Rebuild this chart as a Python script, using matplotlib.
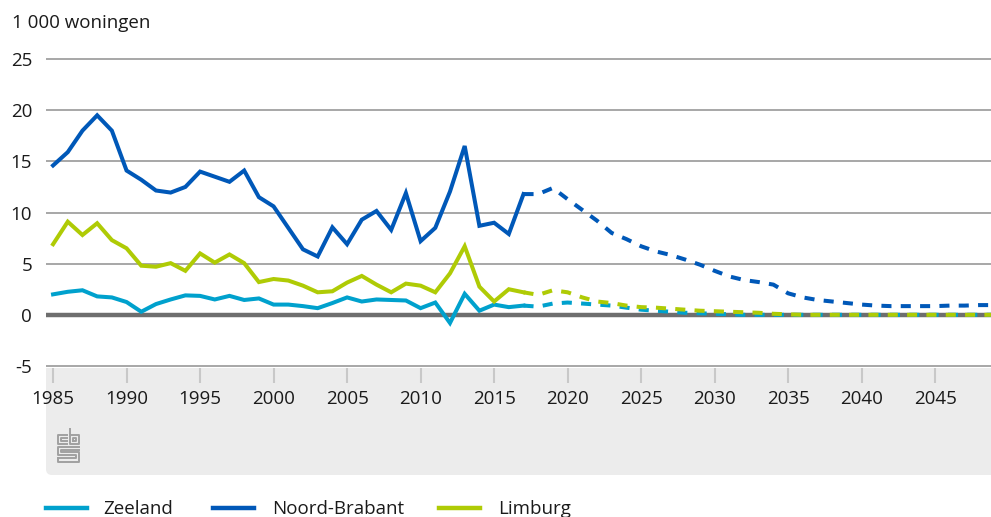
import numpy as np
import matplotlib.pyplot as plt
from matplotlib.lines import Line2D
from matplotlib.patches import FancyBboxPatch

plt.rcParams['font.family'] = ['Open Sans', 'DejaVu Sans']
plt.rcParams['axes.unicode_minus'] = False

# realised figures 1985-2017
years = np.arange(1985, 2018)
zeeland = [2.0, 2.25, 2.4, 1.8, 1.7, 1.25, 0.3, 1.05, 1.5, 1.9,
           1.85, 1.5, 1.85, 1.45, 1.6, 1.0, 1.0, 0.85, 0.65, 1.15,
           1.7, 1.3, 1.5, 1.45, 1.4, 0.65, 1.2, -0.8, 2.05, 0.4,
           1.0, 0.75, 0.9]
brabant = [14.6, 15.9, 18.0, 19.5, 18.0, 14.1, 13.2, 12.15, 11.95, 12.5,
           14.0, 13.5, 13.0, 14.1, 11.5, 10.6, 8.5, 6.4, 5.7, 8.55,
           6.9, 9.3, 10.15, 8.3, 11.9, 7.2, 8.5, 12.05, 16.5, 8.7,
           9.0, 7.9, 11.8]
limburg = [6.9, 9.1, 7.8, 8.95, 7.3, 6.5, 4.8, 4.7, 5.05, 4.3,
           6.0, 5.1, 5.9, 5.05, 3.2, 3.5, 3.35, 2.85, 2.2, 2.3,
           3.15, 3.8, 2.95, 2.2, 3.05, 2.85, 2.2, 4.05, 6.7, 2.75,
           1.3, 2.5, 2.2]

# forecast 2017-2049
years_fc = np.arange(2017, 2050)
zeeland_fc = [0.9, 0.8, 1.1, 1.2, 1.1, 1.0, 0.9, 0.7, 0.5, 0.4,
              0.3, 0.2, 0.15, 0.1, 0.05, 0.0, 0.0, 0.0, 0.0, 0.0,
              0.0, 0.0, 0.0, 0.0, 0.0, 0.0, 0.0, 0.0, 0.0, 0.0,
              0.0, 0.0, 0.0]
brabant_fc = [11.8, 11.8, 12.4, 11.3, 10.25, 9.2, 8.0, 7.4, 6.7, 6.2,
              5.85, 5.4, 4.9, 4.3, 3.75, 3.4, 3.2, 2.95, 2.1, 1.7,
              1.45, 1.3, 1.15, 1.0, 0.9, 0.85, 0.85, 0.85, 0.85, 0.9,
              0.9, 0.95, 0.95]
limburg_fc = [2.2, 1.95, 2.4, 2.2, 1.7, 1.3, 1.15, 0.9, 0.75, 0.7,
              0.6, 0.5, 0.4, 0.35, 0.3, 0.25, 0.2, 0.1, 0.05, 0.0,
              0.0, 0.0, 0.0, 0.0, 0.0, 0.0, 0.0, 0.0, 0.0, 0.0,
              0.0, 0.0, 0.0]

names = ['Zeeland', 'Noord-Brabant', 'Limburg']
colors = ['#00a1cd', '#0058b8', '#afcb05']

fig = plt.figure(figsize=(9.91, 5.17), dpi=100)
ax = fig.add_axes([46 / 991, 1 - 367.5 / 517, 1 - 46 / 991, (367.5 - 57) / 517])

# grey footer panel with the logo
panel = FancyBboxPatch((46, 42), 960, 160, boxstyle='round,pad=0,rounding_size=6',
                       transform=None, facecolor='#ececec', edgecolor='none', zorder=-1)
fig.patches.append(panel)

for actual, fc, col in zip([zeeland, brabant, limburg],
                           [zeeland_fc, brabant_fc, limburg_fc], colors):
    ax.plot(years, actual, color=col, lw=2.9, zorder=4, solid_joinstyle='miter')
    ax.plot(years_fc, fc, color=col, lw=2.9, dashes=(2.5, 2.3), zorder=4)

ax.axhline(0, color='#6e6e6e', lw=3.2, zorder=3)

ax.set_xlim(1984.52, 2048.8)
ax.set_ylim(-5.15, 25.2)
ax.set_yticks([-5, 0, 5, 10, 15, 20, 25])
ax.set_xticks(np.arange(1985, 2050, 5))
ax.grid(axis='y', color='#a0a0a0', lw=1.3, zorder=1)
ax.set_axisbelow(True)
for s in ax.spines.values():
    s.set_visible(False)
ax.tick_params(axis='y', length=0, pad=10, labelsize=13.5, labelcolor='#1a1a1a')
ax.tick_params(axis='x', length=10.5, width=1.5, color='#c8c8c8', pad=6,
               labelsize=13.5, labelcolor='#1a1a1a')

fig.text(12 / 991, 1 - 28 / 517, '1 000 woningen', fontsize=13.5, color='#1a1a1a',
         va='baseline', ha='left')

# cbs logo (simplified)
lax = fig.add_axes([57 / 991, 1 - 463 / 517, 23 / 991, 35 / 517])
lax.set_xlim(-0.5, 8.5)
lax.set_ylim(-0.5, 12.5)
lax.axis('off')
lc = '#a0a0a0'
lw = 1.4
lax.plot([3.6, 0, 0, 3.6], [10, 10, 6.6, 6.6], color=lc, lw=lw)
lax.plot([3.6, 1.2, 1.2, 3.6], [8.8, 8.8, 7.8, 7.8], color=lc, lw=lw)
lax.plot([4.6, 4.6, 8, 8, 4.6], [12.2, 6.6, 6.6, 10, 10], color=lc, lw=lw)
lax.plot([5.8, 6.8, 6.8, 5.8, 5.8], [7.8, 7.8, 8.8, 8.8, 7.8], color=lc, lw=lw)
lax.plot([8, 0, 0, 6.8, 6.8, 0], [5.5, 5.5, 2.4, 2.4, 1.2, 1.2], color=lc, lw=lw)
lax.plot([8, 1.2, 1.2, 8, 8, 0, 0], [4.3, 4.3, 3.5, 3.5, 0, 0, 1.2], color=lc, lw=lw)

# legend
leg_pos = [(46, 87, 103), (213, 254, 272), (439, 480, 498)]
for (x0, x1, xt), name, col in zip(leg_pos, names, colors):
    fig.add_artist(Line2D([x0 / 991, x1 / 991], [1 - 508 / 517] * 2, color=col, lw=3.2,
                          transform=fig.transFigure))
    fig.text(xt / 991, 1 - 514 / 517, name, fontsize=13.5, color='#1a1a1a',
             va='baseline', ha='left')

fig.savefig('out.png', dpi=100)
